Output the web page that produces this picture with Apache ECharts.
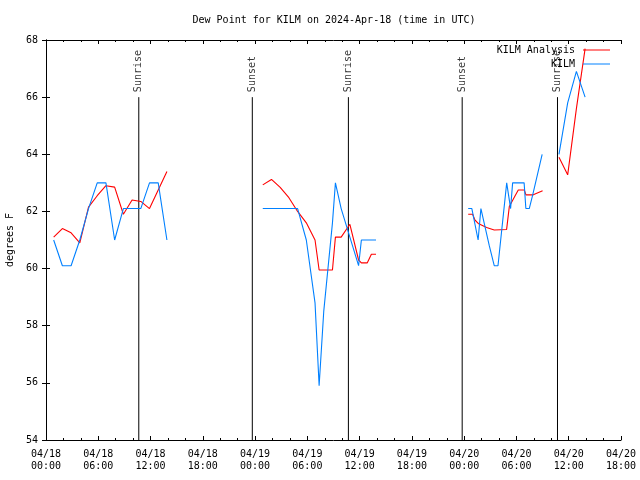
<!DOCTYPE html>
<html>
<head>
<meta charset="utf-8">
<script src="https://cdn.jsdelivr.net/npm/echarts@6/dist/echarts.min.js"></script>
<style>html,body{margin:0;padding:0;background:#fff}#c{width:640px;height:480px}</style>
</head>
<body>
<div id="c"></div>
<script>
// hours since 04/18 00:00 UTC; null value = gap in record
const obsTimes = [
  0.88, 1.88, 2.88, 3.88, 4.88, 5.88, 6.88, 7.88, 8.88, 9.88, 10.88, 11.88, 12.88, 13.88,
  19,
  24.88, 25.88, 26.88, 27.88, 28.88, 29.88, 30.88, 31.35, 31.88, 32.88, 33.22, 33.88, 34.88, 35.88, 36.2, 36.88, 37.88,
  43,
  48.46, 48.88, 49.6, 49.92, 50.88, 51.45, 51.88, 52.88, 53.33, 53.56, 53.88, 54.88, 55.08, 55.47, 55.88, 56.95,
  57.9,
  58.88, 59.88, 60.88, 61.88
];
const obsValues = [
  61.0, 60.1, 60.1, 61.0, 62.1, 63.0, 63.0, 61.0, 62.1, 62.1, 62.1, 63.0, 63.0, 61.0,
  null,
  62.1, 62.1, 62.1, 62.1, 62.1, 61.0, 58.8, 55.9, 58.5, 61.6, 63.0, 62.1, 61.1, 60.1, 61.0, 61.0, 61.0,
  null,
  62.1, 62.1, 61.0, 62.1, 60.8, 60.1, 60.1, 63.0, 62.1, 63.0, 63.0, 63.0, 62.1, 62.1, 62.6, 64.0,
  null,
  64.0, 65.8, 66.9, 66.0
];
const anaTimes = [
  0.88, 1.88, 2.88, 3.88, 4.88, 5.88, 6.88, 7.88, 8.88, 9.88, 10.88, 11.88, 12.88, 13.88,
  19,
  24.88, 25.88, 26.88, 27.88, 28.88, 29.88, 30.88, 31.35, 31.88, 32.88, 33.22, 33.88, 34.88, 35.88, 36.2, 36.88, 37.35, 37.88,
  43,
  48.46, 48.97, 49.23, 49.61, 50.57, 51.45, 52.87, 53.18, 53.83, 54.21, 54.9, 55.09, 55.93, 57.0,
  57.9,
  58.88, 59.88, 60.88, 61.88
];
const anaValues = [
  61.1, 61.4, 61.25, 60.9, 62.15, 62.55, 62.9, 62.85, 61.9, 62.4, 62.35, 62.1, 62.75, 63.4,
  null,
  62.93, 63.12, 62.84, 62.48, 62.0, 61.6, 61.0, 59.95, 59.95, 59.95, 61.1, 61.1, 61.55, 60.3, 60.2, 60.2, 60.5, 60.5,
  null,
  61.9, 61.9, 61.7, 61.58, 61.44, 61.35, 61.37, 62.17, 62.54, 62.75, 62.75, 62.58, 62.58, 62.72,
  null,
  63.9, 63.28, 65.6, 67.7
];
const sunTimes = [10.65, 23.68, 34.71, 47.77, 58.71];
const sunNames = ['Sunrise', 'Sunset', 'Sunrise', 'Sunset', 'Sunrise'];
const dayLabels = ['04/18', '04/19', '04/20'];
const hourLabels = ['00:00', '06:00', '12:00', '18:00'];
const seriesNames = ['KILM Analysis', 'KILM'];
const titleText = 'Dew Point for KILM on 2024-Apr-18 (time in UTC)';
const yName = 'degrees F';

const MONO = 'DejaVu Sans Mono';
const obsData = obsTimes.map((t, i) => [t, obsValues[i]]);
const anaData = anaTimes.map((t, i) => [t, anaValues[i]]);
const sunLineData = [];
sunTimes.forEach(t => { sunLineData.push([t, 54], [t, 66], [t, null]); });
const sunLabelData = sunTimes.map((t, i) => ({ name: sunNames[i], value: [t, 66] }));

function xLabel(h) {
  const d = Math.floor(h / 24);
  const hh = Math.round(h - d * 24);
  return dayLabels[d] + '\n' + hourLabels[hh / 6];
}

const axisLine = { show: true, lineStyle: { color: '#000', width: 1 } };
const chart = echarts.init(document.getElementById('c'), null, { renderer: 'canvas' });
chart.setOption({
  animation: false,
  backgroundColor: '#fff',
  textStyle: { fontFamily: MONO },
  title: {
    text: titleText, left: 334, top: 14, textAlign: 'center', padding: 0,
    textStyle: { fontFamily: MONO, fontSize: 10, fontWeight: 'normal', color: '#000', lineHeight: 12 }
  },
  legend: {
    data: seriesNames, orient: 'vertical', right: 30, top: 44, align: 'right',
    icon: 'rect', itemWidth: 27, itemHeight: 1, itemGap: 2, padding: 0,
    textStyle: { fontFamily: MONO, fontSize: 10, color: '#000', lineHeight: 12, padding: [0, 3, 0, 0] }
  },
  grid: { left: 46, right: 19, top: 40, bottom: 40, containLabel: false, outerBoundsMode: 'none' },
  xAxis: [
    {
      type: 'value', min: 0, max: 66, interval: 6, position: 'bottom',
      axisLine, splitLine: { show: false },
      axisTick: { inside: true, length: 4, lineStyle: { color: '#000' } },
      minorTick: { show: true, splitNumber: 3, length: 2, lineStyle: { color: '#000' } },
      minorSplitLine: { show: false },
      axisLabel: { formatter: xLabel, fontFamily: MONO, fontSize: 10, color: '#000', lineHeight: 12, margin: 8 }
    },
    {
      type: 'value', min: 0, max: 66, interval: 6, position: 'top',
      axisLine, splitLine: { show: false },
      axisTick: { inside: true, length: 4, lineStyle: { color: '#000' } },
      minorTick: { show: true, splitNumber: 3, length: 2, lineStyle: { color: '#000' } },
      axisLabel: { show: false }
    }
  ],
  yAxis: [
    {
      type: 'value', min: 54, max: 68, interval: 2, position: 'left',
      axisLine, splitLine: { show: false },
      axisTick: { inside: true, length: 4, lineStyle: { color: '#000' } },
      axisLabel: { fontFamily: MONO, fontSize: 10, color: '#000', margin: 8 },
      name: yName, nameLocation: 'middle', nameRotate: 90, nameGap: 30,
      nameTextStyle: { fontFamily: MONO, fontSize: 10, color: '#000' }
    },
    {
      type: 'value', min: 54, max: 68, interval: 2, position: 'right',
      axisLine, splitLine: { show: false },
      axisTick: { inside: true, length: 4, lineStyle: { color: '#000' } },
      axisLabel: { show: false }
    }
  ],
  series: [
    {
      name: 'sunLines', type: 'line', data: sunLineData, symbol: 'none', silent: true,
      lineStyle: { color: '#000', width: 1 }, connectNulls: false
    },
    {
      name: 'sunLabels', type: 'scatter', data: sunLabelData, symbolSize: 0, silent: true,
      label: {
        show: true, formatter: p => p.name, position: 'top', distance: 5, rotate: 90,
        align: 'left', verticalAlign: 'middle', fontFamily: MONO, fontSize: 10, color: '#000'
      }
    },
    {
      name: seriesNames[0], type: 'line', data: anaData, symbol: 'none', connectNulls: false,
      color: '#ff0000', lineStyle: { color: '#ff0000', width: 1.1 }
    },
    {
      name: seriesNames[1], type: 'line', data: obsData, symbol: 'none', connectNulls: false,
      color: '#0080ff', lineStyle: { color: '#0080ff', width: 1.1 }
    }
  ]
});
</script>
</body>
</html>
